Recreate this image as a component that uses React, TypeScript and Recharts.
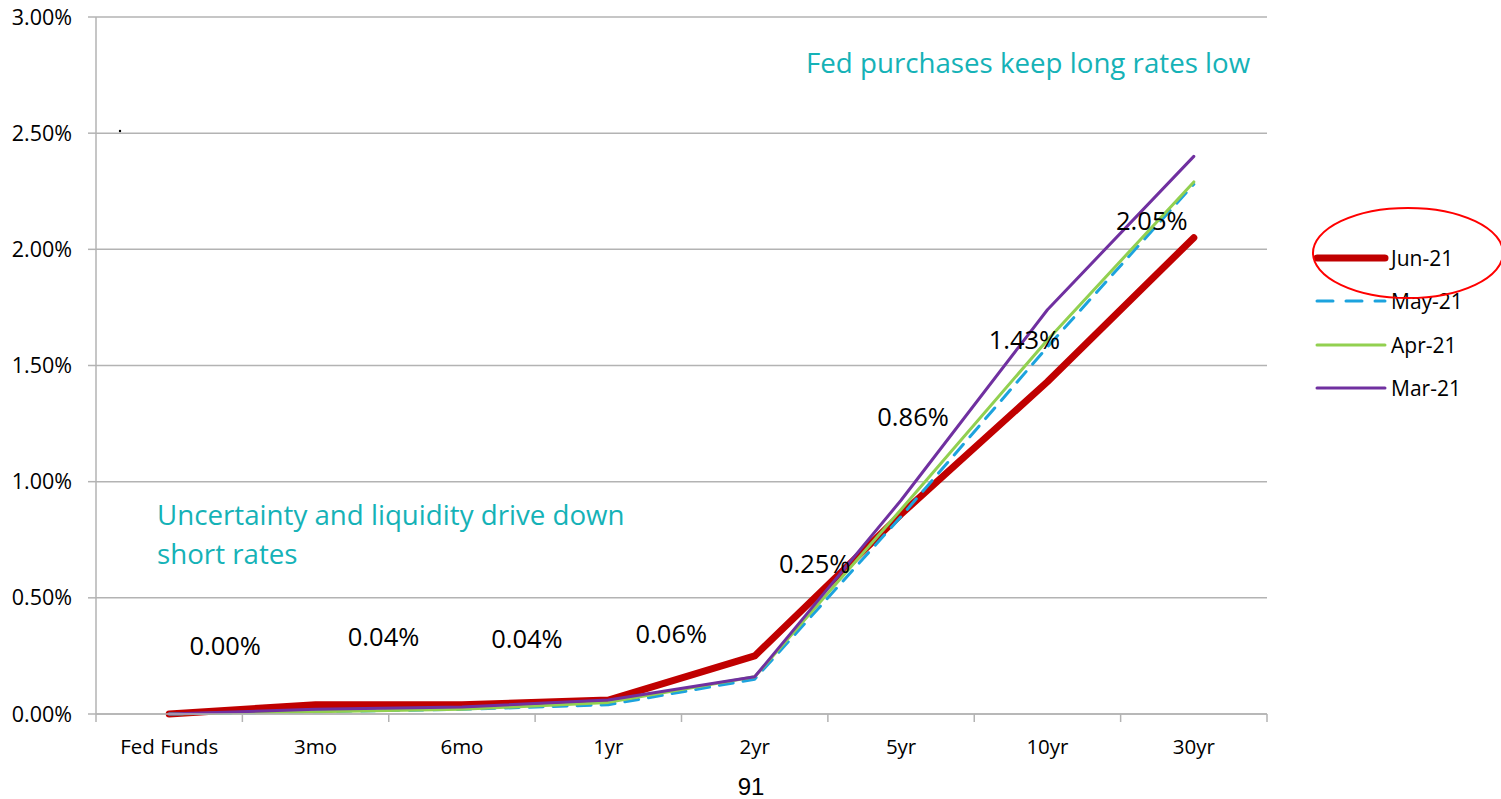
import { LineChart, Line, XAxis, YAxis, CartesianGrid, LabelList } from "recharts";

const maturities = ["Fed Funds", "3mo", "6mo", "1yr", "2yr", "5yr", "10yr", "30yr"];
const jun21 = [0.0, 0.04, 0.04, 0.06, 0.25, 0.86, 1.43, 2.05];
const may21 = [0.0, 0.01, 0.02, 0.04, 0.15, 0.85, 1.58, 2.28];
const apr21 = [0.0, 0.01, 0.02, 0.05, 0.16, 0.88, 1.61, 2.29];
const mar21 = [0.0, 0.02, 0.03, 0.06, 0.16, 0.92, 1.74, 2.4];
const yTicks = [0, 0.5, 1, 1.5, 2, 2.5, 3];

const series = [
  { key: "jun", name: "Jun-21", color: "#C00000", width: 7, dash: undefined as string | undefined },
  { key: "may", name: "May-21", color: "#1CA3DE", width: 3, dash: "14 10" },
  { key: "apr", name: "Apr-21", color: "#92D050", width: 3, dash: undefined },
  { key: "mar", name: "Mar-21", color: "#7030A0", width: 3, dash: undefined },
];

const data = maturities.map((m, i) => ({
  m,
  jun: jun21[i],
  may: may21[i],
  apr: apr21[i],
  mar: mar21[i],
}));

const FONT = "'Open Sans', sans-serif";
const GRID = "#B3B3B3";
const TEAL = "#15B2B7";
const PLOT_L = 96;
const PLOT_R = 1267;
const PLOT_B = 714;
const HALF_BAND = (PLOT_R - PLOT_L) / maturities.length / 2;

// where Excel placed each data label relative to its point
const labelShift = [
  [56, -69],
  [68, -69],
  [65, -67],
  [63, -67],
  [60, -93],
  [12, -98],
  [-23, -43],
  [-42, -18],
];

const JunLabel = (props: any) => {
  const { x, y, value, index } = props;
  const [dx, dy] = labelShift[index] || [0, -20];
  return (
    <text
      x={x + dx}
      y={y + dy}
      textAnchor="middle"
      dominantBaseline="central"
      fontFamily={FONT}
      fontSize={25.5}
      fill="#000"
    >
      {Number(value).toFixed(2)}%
    </text>
  );
};

const XTick = (props: any) => {
  const { x, payload, index } = props;
  const last = index === maturities.length - 1;
  return (
    <g>
      <line x1={x - HALF_BAND} y1={PLOT_B} x2={x - HALF_BAND} y2={PLOT_B + 8} stroke={GRID} strokeWidth={1.5} />
      {last && (
        <line x1={x + HALF_BAND} y1={PLOT_B} x2={x + HALF_BAND} y2={PLOT_B + 8} stroke={GRID} strokeWidth={1.5} />
      )}
      <text x={x} y={746} textAnchor="middle" dominantBaseline="central" fontFamily={FONT} fontSize={20.5} fill="#000">
        {payload.value}
      </text>
    </g>
  );
};

export default function App() {
  return (
    <div style={{ position: "absolute", left: 0, top: 0, width: 1501, height: 799, background: "#fff", overflow: "hidden" }}>
      <LineChart
        width={1501}
        height={799}
        data={data}
        margin={{ top: 17, right: 1501 - PLOT_R, bottom: 45, left: 0 }}
      >
        <CartesianGrid vertical={false} stroke={GRID} strokeWidth={1.5} />
        <XAxis
          dataKey="m"
          scale="band"
          height={40}
          axisLine={{ stroke: GRID, strokeWidth: 1.5 }}
          tickLine={false}
          tick={<XTick />}
          interval={0}
        />
        <YAxis
          width={PLOT_L}
          domain={[0, 3]}
          ticks={yTicks}
          interval={0}
          tickFormatter={(v: number) => v.toFixed(2) + "%"}
          axisLine={{ stroke: GRID, strokeWidth: 1.5 }}
          tickLine={{ stroke: GRID, strokeWidth: 1.5 }}
          tickSize={8}
          tickMargin={16}
          tick={{ fontFamily: FONT, fontSize: 21.5, fill: "#000" }}
        />
        {series.map((s) => (
          <Line
            key={s.key}
            dataKey={s.key}
            name={s.name}
            stroke={s.color}
            strokeWidth={s.width}
            strokeDasharray={s.dash}
            strokeLinecap="round"
            strokeLinejoin="round"
            dot={false}
            activeDot={false}
            isAnimationActive={false}
          >
            {s.key === "jun" && <LabelList dataKey="jun" content={<JunLabel />} />}
          </Line>
        ))}
      </LineChart>

      {/* legend */}
      <div style={{ position: "absolute", left: 1313, top: 236, fontFamily: FONT, fontSize: 21 }}>
        {series.map((s) => (
          <div key={s.key} style={{ display: "flex", alignItems: "center", height: 43.5 }}>
            <svg width={76} height={12}>
              <line
                x1={4}
                y1={6}
                x2={72}
                y2={6}
                stroke={s.color}
                strokeWidth={s.width}
                strokeDasharray={s.key === "may" ? "16 13" : undefined}
                strokeLinecap="round"
              />
            </svg>
            <span style={{ marginLeft: 2 }}>{s.name}</span>
          </div>
        ))}
      </div>

      {/* highlight ring round Jun-21 */}
      <svg style={{ position: "absolute", left: 0, top: 0 }} width={1501} height={799} pointerEvents="none">
        <ellipse cx={1408} cy={253} rx={95} ry={45} fill="none" stroke="#FF0000" strokeWidth={2} />
        <circle cx={120} cy={131} r={1.2} fill="#000" />
      </svg>

      <div
        style={{
          position: "absolute",
          left: 806,
          top: 43,
          fontFamily: FONT,
          fontSize: 27.7,
          color: TEAL,
          whiteSpace: "nowrap",
        }}
      >
        Fed purchases keep long rates low
      </div>
      <div
        style={{
          position: "absolute",
          left: 157,
          top: 495,
          fontFamily: FONT,
          fontSize: 27.7,
          lineHeight: "39px",
          color: TEAL,
          whiteSpace: "nowrap",
        }}
      >
        Uncertainty and liquidity drive down
        <br />
        short rates
      </div>
      <div
        style={{
          position: "absolute",
          left: 0,
          width: 1502,
          top: 776,
          height: 22,
          lineHeight: "22px",
          textAlign: "center",
          fontFamily: "'Liberation Sans', Arial, sans-serif",
          fontSize: 24,
        }}
      >
        91
      </div>
    </div>
  );
}
